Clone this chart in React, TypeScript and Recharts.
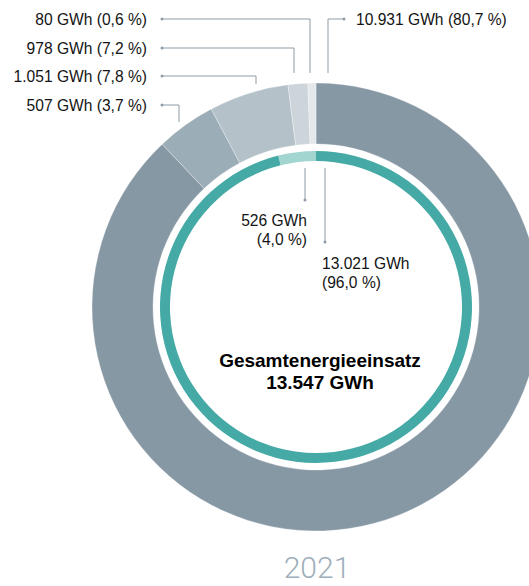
import { PieChart, Pie, Cell } from "recharts";

// Outer ring: energy sources. Labels as printed; arc sizes as drawn
// (the original ring isn't to scale with its printed shares).
const outerLabels = [
  "10.931 GWh (80,7 %)",
  "507 GWh (3,7 %)",
  "1.051 GWh (7,8 %)",
  "978 GWh (7,2 %)",
  "80 GWh (0,6 %)",
];
const outerArcGwh = [11915, 583, 779, 192, 78];
const outerColors = ["#8798a5", "#9badb7", "#b5c1c9", "#cdd5db", "#e4e8eb"];

// Inner ring
const innerValues = [13021, 526];
const innerLines = [
  ["13.021 GWh", "(96,0 %)"],
  ["526 GWh", "(4,0 %)"],
];
const innerColors = ["#45aaa5", "#a2d4d0"];

const centerTitle = "Gesamtenergieeinsatz";
const centerTotal = "13.547 GWh";
const yearLabel = "2021";

const outerData = outerArcGwh.map((v, i) => ({ name: outerLabels[i], value: v }));
const innerData = innerValues.map((v, i) => ({ name: innerLines[i][0], value: v }));

const W = 529;
const H = 586;
const CX = 316;
const CY = 307;

const LINE = "#8d9ca8";
const INK = "#141414";
const FONT = "'Liberation Sans', Arial, sans-serif";
const FS = 15.6;

// leader lines for the outer callouts
const leftCallouts = [
  { i: 4, y: 19, x: 310, endY: 73 },
  { i: 3, y: 48, x: 294, endY: 73 },
  { i: 2, y: 76, x: 256, endY: 84 },
  { i: 1, y: 105, x: 179, endY: 122 },
];

export default function App() {
  return (
    <div style={{ position: "absolute", left: 0, top: 0, width: W, height: H, background: "#fff" }}>
      <PieChart width={W} height={H} margin={{ top: 0, right: 0, bottom: 0, left: 0 }}>
        <Pie
          data={outerData}
          dataKey="value"
          cx={CX}
          cy={CY}
          innerRadius={163}
          outerRadius={224}
          startAngle={90}
          endAngle={-270}
          stroke="#ffffff"
          strokeWidth={0.6}
          strokeOpacity={0.5}
          isAnimationActive={false}
        >
          {outerData.map((_, i) => (
            <Cell key={`o-${i}`} fill={outerColors[i]} />
          ))}
        </Pie>
        <Pie
          data={innerData}
          dataKey="value"
          cx={CX}
          cy={CY}
          innerRadius={146}
          outerRadius={156}
          startAngle={90}
          endAngle={-270}
          stroke="none"
          isAnimationActive={false}
        >
          {innerData.map((_, i) => (
            <Cell key={`i-${i}`} fill={innerColors[i]} />
          ))}
        </Pie>
      </PieChart>

      {/* callouts and captions */}
      <svg
        width={W}
        height={H}
        style={{ position: "absolute", left: 0, top: 0, pointerEvents: "none" }}
        fontFamily={FONT}
      >
        {leftCallouts.map((c) => (
          <g key={c.i}>
            <polyline
              points={`162,${c.y} ${c.x},${c.y} ${c.x},${c.endY}`}
              fill="none"
              stroke={LINE}
              strokeWidth={1}
            />
            <circle cx={162} cy={c.y} r={1.5} fill={LINE} />
            <text x={147} y={c.y} textAnchor="end" dominantBaseline="central" fontSize={FS} fill={INK}>
              {outerLabels[c.i]}
            </text>
          </g>
        ))}

        <polyline points={`328,73 328,19 344,19`} fill="none" stroke={LINE} strokeWidth={1} />
        <circle cx={344} cy={19} r={1.5} fill={LINE} />
        <text x={356} y={19} dominantBaseline="central" fontSize={FS} fill={INK}>
          {outerLabels[0]}
        </text>

        {/* inner ring callouts */}
        <line x1={305} y1={168} x2={305} y2={200} stroke={LINE} strokeWidth={1} />
        <circle cx={305} cy={200} r={1.5} fill={LINE} />
        <text x={307} y={220} textAnchor="end" dominantBaseline="central" fontSize={FS} fill={INK}>
          {innerLines[1][0]}
        </text>
        <text x={307} y={239} textAnchor="end" dominantBaseline="central" fontSize={FS} fill={INK}>
          {innerLines[1][1]}
        </text>

        <line x1={325} y1={168} x2={325} y2={242} stroke={LINE} strokeWidth={1} />
        <circle cx={325} cy={242} r={1.5} fill={LINE} />
        <text x={322} y={263} dominantBaseline="central" fontSize={FS} fill={INK}>
          {innerLines[0][0]}
        </text>
        <text x={322} y={282} dominantBaseline="central" fontSize={FS} fill={INK}>
          {innerLines[0][1]}
        </text>

        <text x={320} y={360} textAnchor="middle" dominantBaseline="central" fontSize={19} fontWeight={700} fill="#000">
          {centerTitle}
        </text>
        <text x={320} y={382} textAnchor="middle" dominantBaseline="central" fontSize={19} fontWeight={700} fill="#000">
          {centerTotal}
        </text>

        <text
          x={317}
          y={567}
          textAnchor="middle"
          dominantBaseline="central"
          fontSize={30}
          fontWeight={300}
          fontFamily="Roboto, 'Liberation Sans', sans-serif"
          fill="#9eaeba"
        >
          {yearLabel}
        </text>
      </svg>
    </div>
  );
}
